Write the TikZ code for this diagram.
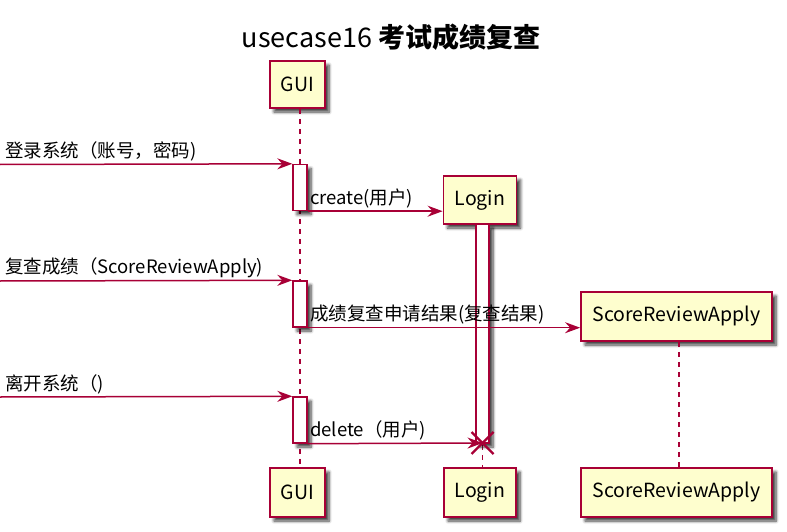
\documentclass[tikz,border=0pt]{standalone}
\usepackage{fontspec}
\setmainfont{Noto Sans CJK SC}
\usetikzlibrary{arrows.meta,shadows,shadows.blur,calc}
\definecolor{pu}{HTML}{A80036}
\definecolor{pufill}{HTML}{FEFECE}
\tikzset{
  shd/.style={blur shadow={shadow xshift=4pt, shadow yshift=-4pt, shadow blur steps=6, shadow blur radius=3pt, shadow opacity=75}},
  part/.style={draw=pu, fill=pufill, line width=1.8pt, inner sep=0pt, shd,
    font=\fontsize{19.5}{22}\selectfont},
  actbar/.style={draw=pu, fill=white, line width=1.4pt, inner sep=0pt, shd},
  lifeline/.style={draw=pu, line width=1.1pt, dash pattern=on 5pt off 5pt},
  msg/.style={draw=pu, line width=1.5pt, -{Stealth[length=15pt,width=11pt,inset=5pt]}},
  lbl/.style={font=\fontsize{18.5}{21}\selectfont, inner sep=0pt, anchor=south west},
  killx/.style={draw=pu, line width=2.2pt}
}
\newcommand\lowtxt[1]{\raisebox{-2pt}{#1}}
\begin{document}
\begin{tikzpicture}[x=1pt,y=-1pt]
\useasboundingbox (0,0) rectangle (787,532);
\node[font=\fontsize{27}{32}\selectfont, inner sep=0pt] (title) at (391,37) {usecase16 \textbf{考试成绩复查}};
% participants
\node[part, minimum width=55pt, minimum height=47pt] (gui) at (297.5,84.5) {\lowtxt{GUI}};
\node[part, minimum width=55pt, minimum height=49pt] (guib) at (297.5,492.5) {\lowtxt{GUI}};
\node[part, minimum width=73pt, minimum height=48pt] (login) at (480,200) {\lowtxt{Login}};
\node[part, minimum width=72pt, minimum height=49pt] (loginb) at (480,492.5) {\lowtxt{Login}};
\node[part, minimum width=191pt, minimum height=49pt] (sra) at (676.5,316.5) {\lowtxt{ScoreReviewApply}};
\node[part, minimum width=191pt, minimum height=49pt] (srab) at (676.5,492.5) {\lowtxt{ScoreReviewApply}};
% lifeline end points
\coordinate (gx) at (300,0);
\coordinate (sx) at (679,0);
\coordinate (xd) at (482.5,443);
\coordinate (gtop) at (gx |- gui.south);
\coordinate (gbot) at (gx |- guib.north);
\coordinate (stop) at (sx |- sra.south);
\coordinate (sbot) at (sx |- srab.north);
\coordinate (ltop) at (xd |- login.south);
\coordinate (lbot) at (xd |- loginb.north);
% lifelines
\draw[lifeline] (gtop) -- (gbot);
\draw[lifeline] (ltop) -- (lbot);
\draw[lifeline] (stop) -- (sbot);
% activations
\node[actbar, minimum width=14pt, minimum height=46pt] (a1) at (300,187.5) {};
\node[actbar, minimum width=14pt, minimum height=46pt] (a2) at (300,304) {};
\node[actbar, minimum width=14pt, minimum height=46pt] (a3) at (300,420) {};
\node[actbar, minimum width=13pt, minimum height=219pt] (lbar) at (482.5,333.5) {};
% messages
\coordinate (s1) at (0,164.5);
\coordinate (s3) at (0,281);
\coordinate (s5) at (0,397);
\draw[msg] (s1) -- (a1.north west);
\draw[msg] (a1.south east) -- (a1.south east -| login.west);
\draw[msg] (s3) -- (a2.north west);
\draw[msg] (a2.south east) -- (a2.south east -| sra.west);
\draw[msg] (s5) -- (a3.north west);
\draw[msg] (a3.south east) -- (xd);
\draw[killx] ($(xd)+(-11,-11)$) -- ($(xd)+(11,11)$);
\draw[killx] ($(xd)+(-11,11)$) -- ($(xd)+(11,-11)$);
% labels
\node[lbl] (l1) at (5,161) {登录系统（账号，密码)};
\node[lbl] (l2) at (310,208) {create(用户)};
\node[lbl] (l3) at (5,278) {复查成绩（ScoreReviewApply)};
\node[lbl] (l4) at (310,324) {成绩复查申请结果(复查结果)};
\node[lbl] (l5) at (5,394) {离开系统（)};
\node[lbl] (l6) at (310,440) {delete（用户)};
\end{tikzpicture}
\end{document}
